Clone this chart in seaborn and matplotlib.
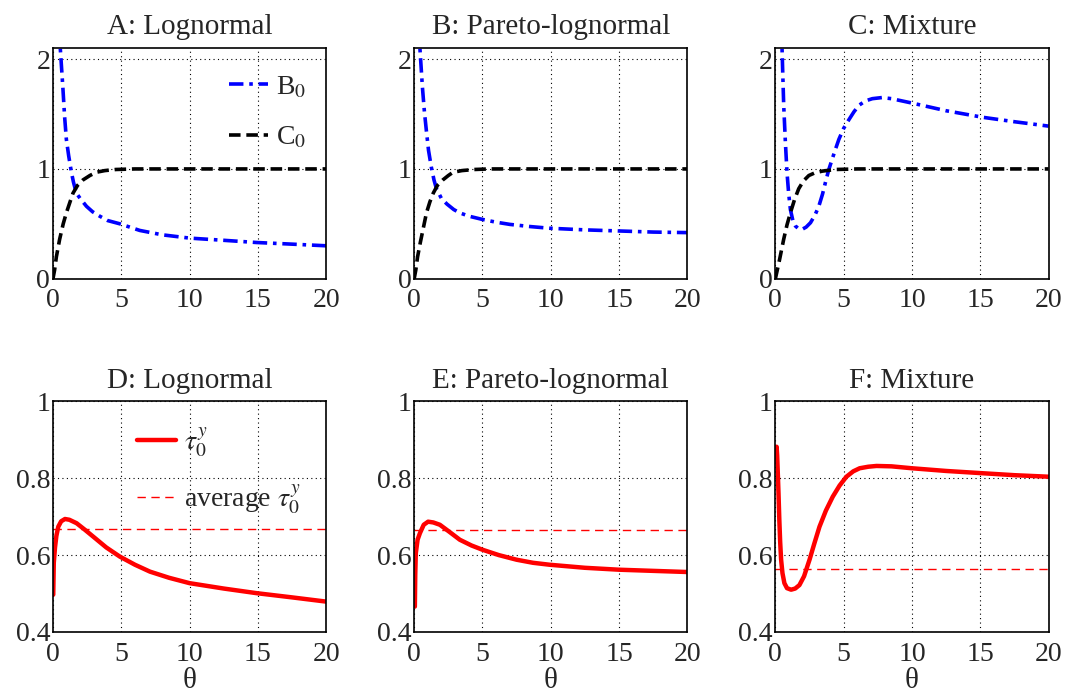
import numpy as np
import seaborn as sns
import matplotlib
matplotlib.use("Agg")
from matplotlib import pyplot as plt

# values, per curve
# --- top row: B0 (blue dash-dot) and C0 (black dashed)
a_b0_x = [0.40, 0.54, 0.73, 0.85, 0.98, 1.15, 1.35, 1.5, 1.71, 2.0, 2.45, 2.9, 3.42,
          4.0, 4.9, 6.35, 8.0, 10.0, 12.5, 14.9, 17.5, 20.0]
a_b0_y = [2.70, 2.09, 1.73, 1.48, 1.27, 1.12, 0.97, 0.88, 0.78, 0.73, 0.66, 0.61, 0.57,
          0.53, 0.50, 0.44, 0.40, 0.37, 0.35, 0.33, 0.315, 0.30]
a_c0_x = [0.0, 0.12, 0.25, 0.49, 0.75, 0.98, 1.25, 1.47, 1.8, 2.2, 2.7, 3.18, 3.8,
          4.6, 6.0, 20.0]
a_c0_y = [0.0, 0.08, 0.20, 0.36, 0.50, 0.60, 0.70, 0.78, 0.85, 0.90, 0.94, 0.97, 0.985,
          0.995, 1.0, 1.0]

b_b0_x = [0.30, 0.42, 0.60, 0.75, 0.90, 1.05, 1.25, 1.45, 1.63, 2.0, 2.4, 2.9, 3.34,
          4.0, 5.0, 6.0, 7.0, 8.5, 9.9, 12.5, 15.0, 17.5, 20.0]
b_b0_y = [2.80, 2.10, 1.75, 1.52, 1.34, 1.17, 1.02, 0.90, 0.82, 0.73, 0.68, 0.63, 0.60,
          0.57, 0.54, 0.515, 0.495, 0.475, 0.46, 0.445, 0.435, 0.425, 0.42]
b_c0_x = [0.0, 0.12, 0.25, 0.45, 0.70, 0.90, 1.15, 1.40, 1.7, 2.1, 2.5, 2.85, 3.5,
          4.4, 5.5, 20.0]
b_c0_y = [0.0, 0.08, 0.20, 0.33, 0.48, 0.60, 0.70, 0.78, 0.85, 0.90, 0.94, 0.97, 0.985,
          0.995, 1.0, 1.0]

c_b0_x = [0.42, 0.49, 0.55, 0.61, 0.73, 0.85, 0.97, 1.10, 1.28, 1.47, 1.7, 1.96, 2.25,
          2.57, 2.9, 3.18, 3.45, 3.67, 3.9, 4.16, 4.4, 4.65, 5.0, 5.39, 5.75, 6.12,
          6.6, 7.1, 7.8, 8.5, 10.0, 12.5, 15.2, 17.5, 20.0]
c_b0_y = [2.60, 2.09, 1.83, 1.58, 1.25, 0.97, 0.78, 0.63, 0.53, 0.48, 0.455, 0.45, 0.47,
          0.51, 0.58, 0.66, 0.77, 0.88, 0.99, 1.09, 1.18, 1.27, 1.37, 1.45, 1.52, 1.58,
          1.62, 1.64, 1.65, 1.64, 1.60, 1.53, 1.47, 1.43, 1.39]
c_c0_x = [0.0, 0.3, 0.61, 0.85, 1.1, 1.4, 1.71, 2.05, 2.45, 2.9, 3.43, 4.4, 6.0, 20.0]
c_c0_y = [0.0, 0.17, 0.36, 0.49, 0.60, 0.72, 0.82, 0.89, 0.94, 0.965, 0.98, 0.995, 1.0, 1.0]

# --- bottom row: tau_0^y (red solid) and its average (red dashed)
d_tau_x = [0.02, 0.06, 0.15, 0.25, 0.39, 0.6, 0.88, 1.2, 1.73, 2.3, 2.95, 3.9, 4.9,
           6.0, 7.1, 8.5, 10.0, 12.5, 14.9, 17.5, 20.0]
d_tau_y = [0.497, 0.580, 0.620, 0.650, 0.674, 0.688, 0.694, 0.692, 0.683, 0.667, 0.648,
           0.620, 0.596, 0.575, 0.557, 0.541, 0.527, 0.513, 0.501, 0.490, 0.479]
d_avg = 0.667

e_tau_x = [0.05, 0.08, 0.12, 0.25, 0.42, 0.7, 1.02, 1.4, 1.88, 2.6, 3.34, 4.2, 5.0,
           6.2, 7.5, 8.7, 9.9, 12.5, 15.0, 17.5, 20.0]
e_tau_y = [0.466, 0.550, 0.605, 0.640, 0.657, 0.679, 0.687, 0.685, 0.679, 0.660, 0.640,
           0.625, 0.614, 0.600, 0.588, 0.580, 0.575, 0.567, 0.562, 0.559, 0.556]
e_avg = 0.666

f_tau_x = [0.05, 0.09, 0.13, 0.17, 0.23, 0.29, 0.35, 0.42, 0.52, 0.66, 0.85, 1.15, 1.45,
           1.76, 2.1, 2.5, 2.85, 3.23, 3.7, 4.2, 4.7, 5.2, 5.7, 6.17, 6.8, 7.4, 8.5,
           10.0, 12.5, 15.2, 17.5, 20.0]
f_tau_y = [0.860, 0.882, 0.860, 0.821, 0.760, 0.691, 0.635, 0.588, 0.553, 0.527, 0.514,
           0.510, 0.513, 0.522, 0.545, 0.588, 0.630, 0.674, 0.716, 0.752, 0.781, 0.804,
           0.818, 0.826, 0.830, 0.832, 0.831, 0.826, 0.819, 0.813, 0.808, 0.804]
f_avg = 0.565

titles = ["A: Lognormal", "B: Pareto-lognormal", "C: Mixture",
          "D: Lognormal", "E: Pareto-lognormal", "F: Mixture"]
x_ticks = [0, 5, 10, 15, 20]
top_yticks = [0, 1, 2]
top_yticklabels = ["0", "1", "2"]
bot_yticks = [0.4, 0.6, 0.8, 1.0]
bot_yticklabels = ["0.4", "0.6", "0.8", "1"]

sns.set_style("white")
plt.rcParams["font.family"] = ["Liberation Serif", "DejaVu Serif"]
plt.rcParams["mathtext.fontset"] = "stix"
plt.rcParams["font.size"] = 20

fig, axes = plt.subplots(2, 3, figsize=(10.7, 6.98), dpi=100)
fig.subplots_adjust(left=0.0495, right=0.980, top=0.931, bottom=0.0946,
                    wspace=0.322, hspace=0.532)

blue_ls = (0, (4, 1.6, 1, 1.6))
black_ls = (0, (3.2, 1.6))

top = [(a_b0_x, a_b0_y, a_c0_x, a_c0_y),
       (b_b0_x, b_b0_y, b_c0_x, b_c0_y),
       (c_b0_x, c_b0_y, c_c0_x, c_c0_y)]
bottom = [(d_tau_x, d_tau_y, d_avg),
          (e_tau_x, e_tau_y, e_avg),
          (f_tau_x, f_tau_y, f_avg)]


def style_axis(ax, yticks, ylabels, ylim):
    ax.set_xlim(0, 20)
    ax.set_ylim(*ylim)
    ax.set_xticks(x_ticks)
    ax.set_xticklabels([str(t) for t in x_ticks])
    ax.set_yticks(yticks)
    ax.set_yticklabels(ylabels)
    ax.grid(True, color="black", linestyle=(0, (1, 3)), linewidth=0.8)
    ax.tick_params(length=0, labelsize=20)
    ax.tick_params(axis="x", pad=7)
    ax.tick_params(axis="y", pad=2)
    for sp in ax.spines.values():
        sp.set_color("black")
        sp.set_linewidth(1.2)
    ax.set_xlabel("")
    ax.set_ylabel("")


for i, (bx, by, cx, cy) in enumerate(top):
    ax = axes[0, i]
    sns.lineplot(x=bx, y=by, ax=ax, color="blue", linestyle=blue_ls, lw=2.6,
                 sort=False, estimator=None, label=r"B$_0$")
    sns.lineplot(x=cx, y=cy, ax=ax, color="black", linestyle=black_ls, lw=2.6,
                 sort=False, estimator=None, label=r"C$_0$")
    style_axis(ax, top_yticks, top_yticklabels, (0, 2.1))
    ax.set_title(titles[i], fontsize=21, pad=10)
    if i == 0:
        ax.legend(frameon=False, loc="upper right", bbox_to_anchor=(1.02, 0.995),
                  fontsize=20, handlelength=1.4, handletextpad=0.3,
                  labelspacing=0.9)
    else:
        ax.get_legend().remove()

for i, (tx, ty, avg) in enumerate(bottom):
    ax = axes[1, i]
    sns.lineplot(x=tx, y=ty, ax=ax, color="red", lw=3.2, sort=False,
                 estimator=None, label=r"$\tau_0^y$")
    ax.axhline(avg, color="red", lw=1.0, linestyle=(0, (6, 4)),
               label=r"average $\tau_0^y$")
    style_axis(ax, bot_yticks, bot_yticklabels, (0.4, 1.0))
    ax.set_title(titles[3 + i], fontsize=21, pad=10)
    ax.set_xlabel("θ", fontsize=21, labelpad=1)
    if i == 0:
        ax.legend(frameon=False, loc="upper left", bbox_to_anchor=(0.216, 1.005),
                  fontsize=20, handlelength=1.4, handletextpad=0.3,
                  labelspacing=0.8)
    else:
        ax.get_legend().remove()

fig.savefig("out.png", dpi=100)
